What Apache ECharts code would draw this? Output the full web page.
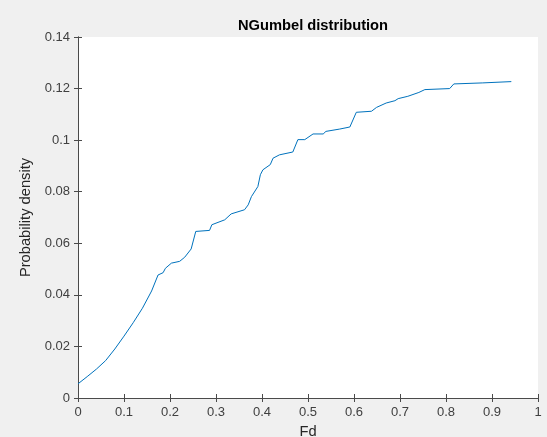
<!DOCTYPE html>
<html>
<head>
<meta charset="utf-8">
<script src="https://cdn.jsdelivr.net/npm/echarts@6/dist/echarts.min.js"></script>
<style>
html,body{margin:0;padding:0;background:#f0f0f0;}
#chart{width:547px;height:437px;}
</style>
</head>
<body>
<div id="chart"></div>
<script>
var fdValues = [0, 0.02, 0.04, 0.06, 0.08, 0.10, 0.12, 0.14, 0.16, 0.174, 0.185, 0.19, 0.203, 0.221, 0.232, 0.246, 0.256, 0.286, 0.291, 0.319, 0.333, 0.362, 0.370, 0.377, 0.391, 0.3965, 0.402, 0.418, 0.424, 0.438, 0.467, 0.478, 0.493, 0.511, 0.533, 0.539, 0.569, 0.591, 0.605, 0.638, 0.649, 0.670, 0.689, 0.696, 0.717, 0.741, 0.754, 0.808, 0.817, 0.880, 0.942];
var densityValues = [0.0055, 0.0083, 0.0112, 0.0145, 0.0190, 0.0240, 0.0292, 0.0348, 0.0415, 0.0477, 0.0486, 0.0503, 0.0523, 0.0530, 0.0546, 0.0578, 0.0646, 0.0650, 0.0672, 0.0691, 0.0714, 0.0730, 0.0749, 0.0781, 0.0820, 0.0866, 0.0885, 0.0905, 0.0930, 0.0943, 0.0954, 0.1002, 0.1002, 0.1024, 0.1024, 0.1034, 0.1043, 0.1051, 0.1108, 0.1112, 0.1127, 0.1144, 0.1153, 0.1161, 0.1170, 0.1185, 0.1196, 0.1200, 0.1218, 0.1222, 0.1227];
var xTicks = {min: 0, max: 1, interval: 0.1};
var yTicks = {min: 0, max: 0.14, interval: 0.02};
var titleText = 'NGumbel distribution';
var xName = 'Fd';
var yName = 'Probability density';

var pts = fdValues.map(function (x, i) { return [x, densityValues[i]]; });
var font = 'Liberation Sans, Arial, Helvetica, sans-serif';
var axisLineStyle = {color: '#4a4a4a', width: 1};

var chart = echarts.init(document.getElementById('chart'), null, {renderer: 'canvas'});
chart.setOption({
  backgroundColor: '#f0f0f0',
  animation: false,
  title: {
    text: titleText,
    left: 308, top: 13, textAlign: 'center',
    textStyle: {fontFamily: font, fontSize: 14.7, fontWeight: 'bold', color: '#000'}
  },
  grid: {
    left: 78, right: 9, top: 37, bottom: 39,
    outerBoundsMode: 'none', containLabel: false,
    show: true, backgroundColor: '#ffffff', borderWidth: 0
  },
  xAxis: [{
    type: 'value', position: 'bottom',
    min: xTicks.min, max: xTicks.max, interval: xTicks.interval,
    name: xName, nameLocation: 'middle', nameGap: 26,
    nameTextStyle: {fontFamily: font, fontSize: 14.7, color: '#262626'},
    axisLine: {show: true, lineStyle: axisLineStyle},
    axisTick: {show: true, inside: true, length: 4, lineStyle: axisLineStyle},
    axisLabel: {fontFamily: font, fontSize: 13, color: '#404040', margin: 8},
    splitLine: {show: false}
  }, {
    type: 'value', position: 'top',
    min: xTicks.min, max: xTicks.max, interval: xTicks.interval,
    axisLine: {show: true, lineStyle: axisLineStyle},
    axisTick: {show: true, inside: true, length: 4, lineStyle: axisLineStyle},
    axisLabel: {show: false},
    splitLine: {show: false}
  }],
  yAxis: [{
    type: 'value', position: 'left',
    min: yTicks.min, max: yTicks.max, interval: yTicks.interval,
    name: yName, nameLocation: 'middle', nameGap: 41,
    nameTextStyle: {fontFamily: font, fontSize: 14.7, color: '#262626'},
    axisLine: {show: true, lineStyle: axisLineStyle},
    axisTick: {show: true, inside: true, length: 4, lineStyle: axisLineStyle},
    axisLabel: {fontFamily: font, fontSize: 13, color: '#404040', margin: 8},
    splitLine: {show: false}
  }, {
    type: 'value', position: 'right',
    min: yTicks.min, max: yTicks.max, interval: yTicks.interval,
    axisLine: {show: true, lineStyle: axisLineStyle},
    axisTick: {show: true, inside: true, length: 4, lineStyle: axisLineStyle},
    axisLabel: {show: false},
    splitLine: {show: false}
  }],
  series: [{
    type: 'line',
    xAxisIndex: 0, yAxisIndex: 0,
    data: pts,
    showSymbol: false,
    smooth: false,
    lineStyle: {color: '#0072BD', width: 1},
    itemStyle: {color: '#0072BD'}
  }]
});
</script>
</body>
</html>
